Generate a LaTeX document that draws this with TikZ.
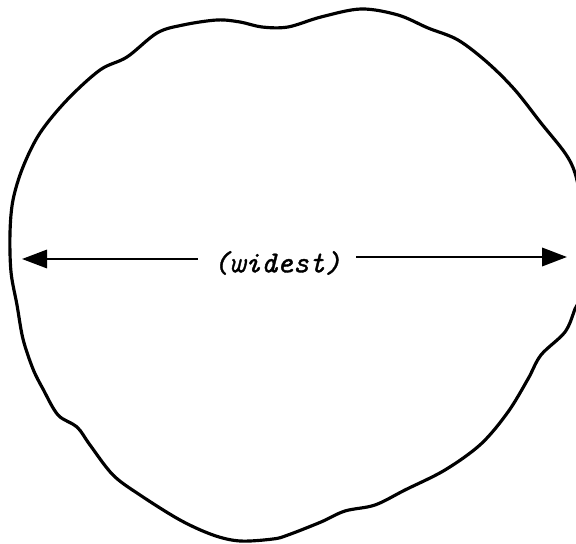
\documentclass[tikz,border=0pt]{standalone}
\usepackage{fontspec}
\usepackage{tikz}
\usetikzlibrary{arrows.meta,positioning}
\newfontfamily\typefont{lmmono10-italic}[Extension=.otf,FakeBold=1.2]

\begin{document}
\begin{tikzpicture}[x=0.03cm,y=-0.03cm,
      ink/.style={line width=2.7pt,line cap=round,line join=round},
      lbl/.style={font=\typefont\fontsize{26}{30}\selectfont,inner sep=0pt,outer sep=13pt},
      dim/.style={line width=2.2pt,-{Triangle[length=7.5mm,width=5.5mm]}}]
    \useasboundingbox (0,0) rectangle (576,544);
    \clip (0,0) rectangle (576,544);
    % outline of the blob
    \draw[ink] plot[smooth cycle,tension=0.55] coordinates {
      (11,272) (10,233) (13,200) (23,167) (40,133) (67,100) (100,70) (127,57)
      (157,33) (183,25) (217,20) (240,22) (262,27) (288,27) (321,17) (361,9)
      (398,15) (428,28) (458,40) (488,63) (515,90) (541,123) (565,153) (575,173)
      (580,200) (582,250) (580,296) (575,309) (565,332) (541,355) (528,379) (508,412)
      (481,444) (445,470) (405,490) (375,505) (345,511) (321,522) (288,535) (273,539)
      (240,541) (213,535) (180,520) (140,495) (113,475) (90,445) (77,427) (58,415)
      (43,389) (33,369) (23,339) (17,305)};
    \node[lbl] (w) at (277,263) {(widest)};
    \coordinate (lt) at (22,259);
    \coordinate (rt) at (567,257);
    \draw[dim,line width=1.8pt] (w.west|-lt) -- (lt);
    \draw[dim] (w.east|-rt) -- (rt);
  \end{tikzpicture}
\end{document}
